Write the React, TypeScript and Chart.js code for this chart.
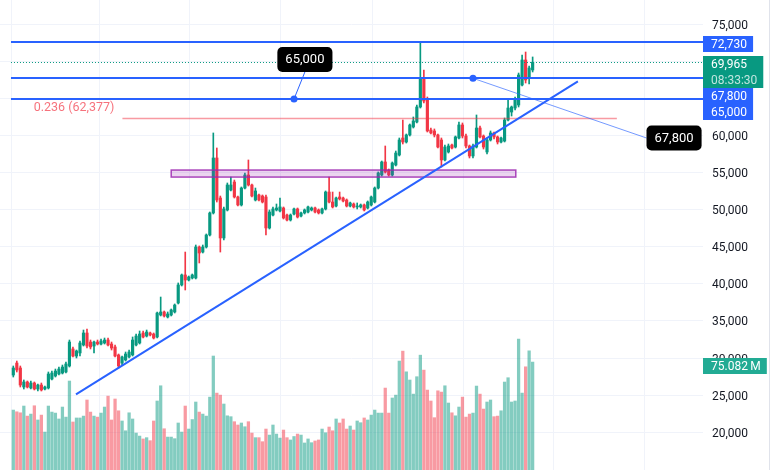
import React, { useEffect, useRef } from 'react';
import { Chart, registerables } from 'chart.js';

Chart.register(...registerables);

// ---- data (one entry per candle) ----
const opens = [
  27700, 29320, 28650, 26080, 26760, 25950, 26620, 25810, 26350, 25810,
  25950, 27160, 27570, 27840, 27970, 28110, 28920, 31220, 30270, 30680,
  31760, 33380, 32160, 31620, 32160, 31890, 32030, 32430, 31890, 31490,
  30410, 29320, 29730, 30140, 30410, 31760, 32030, 33380, 32970, 33380,
  33240, 32840, 35810, 36220, 35540, 35810, 36220, 37430, 39870, 41220,
  40540, 40810, 40810, 45000, 44320, 45000, 46620, 49600, 57030, 51620,
  46220, 50000, 52700, 53780, 51760, 50680, 52970, 54730, 53380, 51350,
  52030, 51890, 51760, 47570, 49320, 50000, 49870, 50270, 49320, 48650,
  49460, 50140, 49190, 49600, 49730, 50000, 50270, 50000, 49600, 50140,
  52430, 51080, 50540, 51760, 51620, 51350, 50540, 50810, 50410, 50410,
  50680, 50270, 50680, 51080, 52970, 54730, 56490, 55410, 54730, 56080,
  57430, 59730, 59190, 60140, 61220, 61890, 63920, 67700, 65000, 60810,
  60680, 60140, 59460, 56760, 57840, 58780, 58510, 59730, 61490, 60000,
  58650, 57300, 58510, 61080, 60000, 57840, 59460, 60410, 59870, 59190,
  59320, 62160, 63240, 63780, 64190, 66890, 70270, 67840, 68920,
];
const highs = [
  28920, 29590, 28920, 27030, 26890, 26890, 26760, 26490, 26620, 26220,
  28110, 28240, 28510, 28780, 29050, 29460, 32430, 31490, 31080, 32300,
  33780, 33920, 32430, 32300, 32430, 32570, 32700, 32700, 32160, 31760,
  30540, 30270, 30810, 31080, 32840, 33240, 33650, 33650, 33780, 33510,
  33380, 36220, 38240, 36350, 36220, 36620, 37300, 40140, 41350, 44320,
  41080, 41350, 45270, 45140, 45270, 46760, 49730, 60410, 58380, 51890,
  50410, 53650, 54460, 54050, 51890, 53110, 55000, 56760, 53510, 52970,
  52160, 52030, 52030, 50000, 50410, 50810, 51620, 50410, 49460, 49460,
  50270, 50270, 49730, 50140, 50540, 50410, 50410, 50140, 50270, 52570,
  54460, 52430, 51760, 52430, 51760, 51490, 51080, 50950, 50950, 50810,
  50810, 51220, 51890, 53110, 55140, 56620, 58650, 55540, 56490, 57970,
  59730, 62160, 60270, 61620, 62570, 64190, 72730, 68920, 65270, 61080,
  60950, 60270, 59730, 58780, 58920, 58920, 60000, 61890, 61760, 60270,
  58780, 58920, 62840, 61350, 60140, 59730, 60680, 60540, 60000, 59870,
  62430, 64860, 64050, 65270, 68510, 70950, 71350, 69460, 70680,
];
const lows = [
  27430, 28110, 26080, 25810, 25950, 25810, 25680, 25540, 25540, 25680,
  25810, 27030, 27430, 27700, 27840, 27970, 28780, 30140, 30000, 30270,
  31620, 31350, 31220, 30680, 31760, 31760, 31890, 31620, 31080, 30140,
  28650, 29050, 29590, 30000, 30270, 31620, 31890, 32700, 32840, 32970,
  32570, 32700, 35680, 35540, 35410, 35680, 36080, 37300, 39730, 39190,
  40410, 40680, 40680, 42840, 44190, 44860, 46490, 49460, 51080, 44320,
  45950, 49870, 52570, 51620, 50540, 50540, 52840, 53240, 51760, 51220,
  51220, 50950, 46620, 47430, 49190, 49870, 49730, 48780, 48510, 48510,
  49320, 48920, 49050, 49460, 49600, 49870, 49600, 49460, 49460, 50000,
  50950, 50270, 50410, 51350, 51080, 50410, 50410, 50270, 50140, 50270,
  49870, 50140, 50540, 50950, 52840, 54590, 55000, 54590, 54590, 55950,
  57300, 58920, 59050, 60000, 61080, 61760, 63780, 64460, 60540, 60270,
  59870, 58380, 55810, 56620, 57700, 58240, 58380, 59600, 59730, 58380,
  57030, 57030, 58380, 59730, 58240, 57570, 59320, 59600, 58920, 59050,
  59190, 62030, 62700, 63510, 63920, 66760, 67160, 67030, 68650,
];
const closes = [
  28650, 28380, 26350, 26760, 26080, 26620, 25810, 26350, 25680, 26080,
  27840, 27970, 28240, 28510, 28780, 29190, 32160, 30270, 30950, 32030,
  33380, 31620, 31490, 32160, 31890, 32300, 32430, 31760, 31350, 30270,
  28920, 30140, 30540, 30810, 32430, 32970, 33240, 32840, 33510, 33110,
  32700, 36080, 36220, 35680, 35950, 36490, 37160, 39870, 41220, 40540,
  40950, 41220, 45000, 44190, 45000, 46620, 49600, 57030, 51350, 46220,
  50140, 53380, 53380, 51760, 50680, 52970, 54730, 53380, 51890, 52570,
  51350, 51080, 47570, 49730, 50140, 50270, 50410, 48920, 48650, 49320,
  50140, 49050, 49600, 50000, 50410, 50270, 49730, 49600, 50140, 52430,
  51080, 50410, 51620, 51490, 51220, 50540, 50950, 50410, 50540, 50680,
  50000, 51080, 51760, 52970, 55000, 56490, 55140, 54730, 56350, 57700,
  59460, 59190, 60140, 61490, 62030, 63920, 67840, 64730, 60680, 60410,
  60140, 58510, 56760, 58510, 58650, 58380, 59870, 61490, 60000, 58650,
  57300, 58650, 61080, 59870, 58510, 59460, 60410, 59870, 59190, 59730,
  62160, 63780, 63920, 65000, 68240, 70270, 67570, 69190, 69965,
];
// volume in millions
const volumes = [
  41.7, 40.5, 39.8, 44.5, 37.5, 38.9, 44.7, 34.8, 38.2, 26.4,
  44.5, 40.3, 39.6, 35.5, 43.8, 36.8, 61.9, 33.4, 36.2, 36.2,
  37.5, 48.7, 40.3, 37.5, 36.8, 39.6, 43.8, 51.4, 34.8, 49.4,
  41.2, 34.1, 27.3, 39.8, 35.5, 25.7, 23.6, 21.6, 22.5, 20.4,
  34.1, 48.0, 58.6, 28.7, 22.9, 22.9, 21.8, 32.7, 26.4, 44.5,
  28.5, 35.1, 47.3, 40.3, 38.9, 37.5, 50.7, 79.3, 53.5, 52.1,
  45.9, 37.7, 37.1, 33.6, 31.3, 32.7, 30.1, 33.6, 25.7, 22.5,
  22.5, 19.7, 28.5, 24.3, 31.3, 25.0, 22.2, 27.8, 22.5, 20.9,
  23.3, 25.0, 24.3, 18.8, 21.6, 19.0, 20.2, 20.9, 28.5, 25.9,
  29.9, 27.3, 35.5, 32.7, 35.5, 28.5, 30.6, 27.8, 34.1, 32.9,
  36.2, 34.8, 38.2, 41.7, 39.6, 39.6, 57.0, 39.6, 50.1, 52.1,
  75.8, 82.7, 68.3, 62.6, 52.8, 64.9, 79.9, 69.5, 55.6, 48.0,
  36.4, 55.1, 54.2, 58.6, 46.6, 39.8, 37.7, 43.8, 50.7, 36.8,
  38.9, 39.6, 58.4, 52.8, 42.4, 47.3, 48.7, 37.1, 37.5, 41.2,
  61.2, 64.2, 47.3, 48.0, 91.1, 53.5, 71.8, 82.9, 75.082,
];

const priceTicks = [20000, 25000, 30000, 35000, 40000, 45000, 50000, 55000, 60000, 65000, 70000, 75000];
const levelLines = [72730, 67800, 65000];
const lastPrice = 69965;
const lastVolume = 75.082;
const countdown = '08:33:30';
const fibLevel = { value: 62377, fromIdx: 31.1, toIdx: 172.0, label: '0.236 (62,377)' };
const zoneBox = { fromIdx: 45.0, toIdx: 143.2, top: 55400, bottom: 54450 };
const trendLine = { fromIdx: 17.87, fromPrice: 25090, toIdx: 160.9, toPrice: 67370 };
const callouts = [
  { dotIdx: 80.0, dotPrice: 65000, boxIdx: 83.1, boxPrice: 70340, text: '65,000', attach: 'bottom' },
  { dotIdx: 131.0, dotPrice: 67800, boxIdx: 188.3, boxPrice: 59730, text: '67,800', attach: 'left' },
];
const drawingStartIdx = -0.66;
const verticalGridIdx = [-0.66, 24.42, 50.07, 76.0, 102.2, 128.2, 153.9, 179.7];

const UP = '#089981';
const DOWN = '#f23645';
const UP_VOL = 'rgba(8,153,129,0.5)';
const DOWN_VOL = 'rgba(242,54,69,0.5)';
const BLUE = '#2962ff';
const GRID = '#f0f3fa';
const TEXT = '#131722';
const FONT = 'Roboto, "Noto Sans", sans-serif';

const fmt = (v: number) => v.toLocaleString('en-US');

export default function App() {
  const canvasRef = useRef<HTMLCanvasElement | null>(null);

  useEffect(() => {
    const canvas = canvasRef.current;
    if (!canvas) return;
    const idx = opens.map((_, i) => i);
    const isUp = idx.map((i) => closes[i] >= opens[i]);
    const candleColors = isUp.map((u) => (u ? UP : DOWN));
    const volColors = isUp.map((u) => (u ? UP_VOL : DOWN_VOL));

    const overlayPlugin: any = {
      id: 'overlays',
      beforeDatasetsDraw(chart: any) {
        const { ctx, chartArea: ca, scales } = chart;
        ctx.save();
        ctx.strokeStyle = GRID;
        ctx.lineWidth = 1;
        verticalGridIdx.forEach((v) => {
          const px = Math.round(scales.x.getPixelForValue(v)) + 0.5;
          ctx.beginPath();
          ctx.moveTo(px, ca.top);
          ctx.lineTo(px, ca.bottom);
          ctx.stroke();
        });
        ctx.restore();
      },
      afterDatasetsDraw(chart: any) {
        const { ctx, chartArea: ca, scales } = chart;
        const X = (v: number) => scales.x.getPixelForValue(v);
        const Y = (v: number) => scales.y.getPixelForValue(v);
        ctx.save();
        ctx.beginPath();
        ctx.rect(ca.left, ca.top, ca.right - ca.left, ca.bottom - ca.top);
        ctx.clip();

        // zone rectangle
        const zx1 = X(zoneBox.fromIdx), zx2 = X(zoneBox.toIdx);
        const zy1 = Y(zoneBox.top), zy2 = Y(zoneBox.bottom);
        ctx.fillStyle = 'rgba(156,39,176,0.2)';
        ctx.fillRect(zx1, zy1, zx2 - zx1, zy2 - zy1);
        ctx.strokeStyle = 'rgba(156,39,176,0.85)';
        ctx.lineWidth = 1.5;
        ctx.strokeRect(zx1, zy1, zx2 - zx1, zy2 - zy1);

        // fib level
        const fy = Y(fibLevel.value);
        ctx.strokeStyle = 'rgba(242,54,69,0.5)';
        ctx.lineWidth = 1.5;
        ctx.beginPath();
        ctx.moveTo(X(fibLevel.fromIdx), fy);
        ctx.lineTo(X(fibLevel.toIdx), fy);
        ctx.stroke();
        ctx.fillStyle = 'rgba(242,54,69,0.7)';
        ctx.font = `12.5px ${FONT}`;
        ctx.textAlign = 'right';
        ctx.textBaseline = 'middle';
        ctx.fillText(fibLevel.label, X(fibLevel.fromIdx) - 8, fy - 11);

        // horizontal level lines
        ctx.strokeStyle = BLUE;
        ctx.lineWidth = 2;
        levelLines.forEach((v) => {
          const y = Math.round(Y(v));
          ctx.beginPath();
          ctx.moveTo(X(drawingStartIdx), y);
          ctx.lineTo(ca.right, y);
          ctx.stroke();
        });

        // last price dotted line
        ctx.save();
        ctx.setLineDash([1, 2]);
        ctx.strokeStyle = UP;
        ctx.lineWidth = 1;
        const ly = Math.round(Y(lastPrice)) + 0.5;
        ctx.beginPath();
        ctx.moveTo(X(drawingStartIdx), ly);
        ctx.lineTo(ca.right, ly);
        ctx.stroke();
        ctx.restore();

        // trend line
        ctx.strokeStyle = BLUE;
        ctx.lineWidth = 2;
        ctx.beginPath();
        ctx.moveTo(X(trendLine.fromIdx), Y(trendLine.fromPrice));
        ctx.lineTo(X(trendLine.toIdx), Y(trendLine.toPrice));
        ctx.stroke();

        // callouts
        ctx.font = `13px ${FONT}`;
        callouts.forEach((c) => {
          const dx = X(c.dotIdx), dy = Y(c.dotPrice);
          const bx = X(c.boxIdx), by = Y(c.boxPrice);
          const tw = ctx.measureText(c.text).width;
          const w = tw + 16, h = 25;
          const ax = c.attach === 'left' ? bx - w / 2 : bx;
          const ay = c.attach === 'left' ? by : by + h / 2;
          ctx.strokeStyle = c.attach === 'left' ? 'rgba(41,98,255,0.65)' : BLUE;
          ctx.lineWidth = 1;
          ctx.beginPath();
          ctx.moveTo(dx, dy);
          ctx.lineTo(ax, ay);
          ctx.stroke();
          ctx.fillStyle = BLUE;
          ctx.beginPath();
          ctx.arc(dx, dy, 3.5, 0, Math.PI * 2);
          ctx.fill();
          ctx.fillStyle = '#000';
          ctx.beginPath();
          ctx.roundRect(bx - w / 2, by - h / 2, w, h, 5);
          ctx.fill();
          ctx.fillStyle = '#fff';
          ctx.textAlign = 'center';
          ctx.textBaseline = 'middle';
          ctx.fillText(c.text, bx, by + 0.5);
        });
        ctx.restore();
      },
      afterDraw(chart: any) {
        const { ctx, chartArea: ca, scales } = chart;
        const Y = (v: number) => scales.y.getPixelForValue(v);
        ctx.save();
        // right border
        ctx.strokeStyle = '#e0e3eb';
        ctx.lineWidth = 1;
        ctx.beginPath();
        ctx.moveTo(769.5, 0);
        ctx.lineTo(769.5, chart.height);
        ctx.stroke();

        ctx.font = `12px ${FONT}`;
        ctx.textAlign = 'left';
        ctx.textBaseline = 'middle';
        const items = [
          { y: Y(levelLines[0]), lines: [fmt(levelLines[0])], bg: BLUE },
          { y: Y(lastPrice), lines: [fmt(lastPrice), countdown], bg: UP },
          { y: Y(levelLines[1]), lines: [fmt(levelLines[1])], bg: BLUE },
          { y: Y(levelLines[2]), lines: [fmt(levelLines[2])], bg: BLUE },
        ].sort((a, b) => a.y - b.y);
        let prevBottom = -Infinity;
        items.forEach((it) => {
          const h = 16 * it.lines.length;
          const top = Math.max(Math.round(it.y) - 6, prevBottom);
          const w = Math.max(...it.lines.map((l) => ctx.measureText(l).width)) + 14;
          ctx.fillStyle = it.bg;
          ctx.fillRect(ca.right, top, w, h);
          it.lines.forEach((l, k) => {
            ctx.fillStyle = k === 0 ? '#fff' : 'rgba(255,255,255,0.75)';
            ctx.fillText(l, ca.right + 8, top + 8.5 + 16 * k);
          });
          prevBottom = top + h;
        });
        // volume label
        const vy = scales.yv.getPixelForValue(lastVolume);
        const vtext = `${lastVolume.toFixed(3)}\u2009M`;
        const vw = ctx.measureText(vtext).width + 14;
        const vtop = Math.round(vy) - 4;
        ctx.fillStyle = '#22ab94';
        ctx.fillRect(ca.right, vtop, vw, 16);
        ctx.fillStyle = '#fff';
        ctx.fillText(vtext, ca.right + 8, vtop + 8.5);
        ctx.restore();
      },
    };

    const chart = new Chart(canvas, {
      type: 'bar',
      data: {
        datasets: [
          {
            label: 'bodies',
            data: idx.map((i) => ({ x: i, y: [opens[i], closes[i]] })) as any,
            backgroundColor: candleColors,
            barThickness: 2.5,
            minBarLength: 1,
            grouped: false,
            yAxisID: 'y',
            order: 1,
          } as any,
          {
            label: 'wicks',
            data: idx.map((i) => ({ x: i, y: [lows[i], highs[i]] })) as any,
            backgroundColor: candleColors,
            barThickness: 1,
            grouped: false,
            yAxisID: 'y',
            order: 2,
          } as any,
          {
            label: 'volume',
            data: idx.map((i) => ({ x: i, y: volumes[i] })) as any,
            backgroundColor: volColors,
            barThickness: 2.6,
            grouped: false,
            yAxisID: 'yv',
            order: 3,
          } as any,
        ],
      },
      options: {
        responsive: false,
        maintainAspectRatio: false,
        animation: false,
        devicePixelRatio: 1,
        events: [],
        layout: { padding: 0 },
        plugins: { legend: { display: false }, tooltip: { enabled: false } },
        scales: {
          x: { type: 'linear', min: -3.79, max: 196.55, offset: false, display: false },
          y: {
            position: 'right',
            min: 14865,
            max: 78378,
            afterBuildTicks: (s: any) => {
              s.ticks = priceTicks.map((v) => ({ value: v }));
            },
            afterFit: (s: any) => {
              s.width = 77;
              s.paddingTop = 0;
              s.paddingBottom = 0;
            },
            grid: { color: GRID, drawTicks: false },
            border: { display: false },
            ticks: {
              padding: 9,
              labelOffset: 1.5,
              color: TEXT,
              font: { family: FONT, size: 12 },
              callback: (v: any) => fmt(Number(v)),
            },
          } as any,
          yv: { display: false, min: 0, max: 327, position: 'left' },
        },
      } as any,
      plugins: [overlayPlugin],
    });
    return () => chart.destroy();
  }, []);

  return (
    <div style={{ position: 'fixed', left: 0, top: 0, width: 780, height: 470, background: '#fff' }}>
      <canvas ref={canvasRef} width={780} height={470} style={{ display: 'block', width: 780, height: 470 }} />
    </div>
  );
}
